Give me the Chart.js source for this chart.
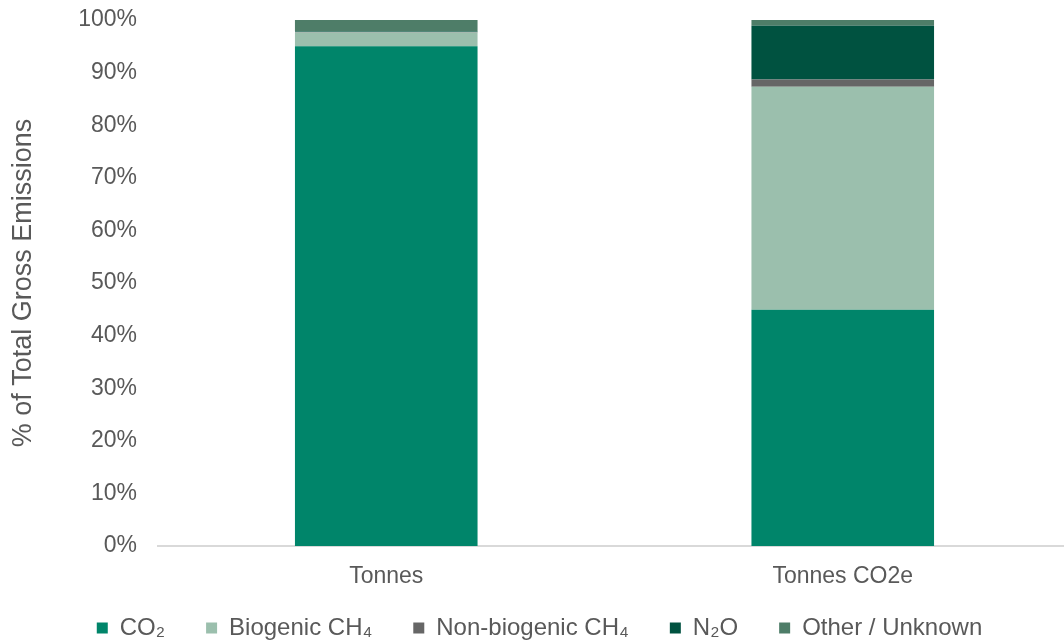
<!DOCTYPE html>
<html>
<head>
<meta charset="utf-8">
<script src="https://cdn.jsdelivr.net/npm/chart.js@4"></script>
<style>
html,body{margin:0;padding:0;background:#fff;overflow:hidden;}
#wrap{width:1064px;height:644px;position:relative;overflow:hidden;}
</style>
</head>
<body>
<div id="wrap"><canvas id="c" width="1071" height="644"></canvas></div>
<script>
const categories = ["Tonnes", "Tonnes CO2e"];
const seriesNames = ["CO\u2082", "Biogenic CH\u2084", "Non-biogenic CH\u2084", "N\u2082O", "Other / Unknown"];
const co2 = [95.0, 44.9];
const biogenicCH4 = [2.6, 42.4];
const nonBiogenicCH4 = [0.1, 1.4];
const n2o = [0.1, 10.2];
const otherUnknown = [2.2, 1.1];
const yTicks = [0, 10, 20, 30, 40, 50, 60, 70, 80, 90, 100];

const colors = ["#00856A", "#9BBFAD", "#666666", "#005240", "#4E7D68"];
const values = [co2, biogenicCH4, nonBiogenicCH4, n2o, otherUnknown];
const FONT = "'Liberation Sans', Arial, sans-serif";

// compact legend box; its drawing is moved to the reference position
const LegendCls = Chart.registry.getPlugin('legend')._element;
const origFit = LegendCls.prototype.fit;
LegendCls.prototype.fit = function () { origFit.call(this); this.height = 42; };
const origDraw = LegendCls.prototype.draw;
LegendCls.prototype.draw = function () {
  const t = this.top, l = this.left, r = this.right;
  this.top = t - 27;
  this.left = l + 4;
  this.right = r + 4;
  origDraw.call(this);
  this.top = t; this.left = l; this.right = r;
};

new Chart(document.getElementById('c'), {
  type: 'bar',
  data: {
    labels: categories,
    datasets: seriesNames.map((n, i) => ({
      label: n,
      data: values[i],
      backgroundColor: colors[i],
      borderWidth: 0,
      barPercentage: 0.4,
      categoryPercentage: 1.0
    }))
  },
  options: {
    responsive: false,
    animation: false,
    layout: { padding: { top: 20, right: 0, left: 0, bottom: 0 } },
    plugins: {
      tooltip: { enabled: false },
      legend: {
        position: 'bottom',
        labels: {
          color: '#595959',
          font: { family: FONT, size: 24 },
          boxWidth: 11,
          boxHeight: 11,
          padding: 41
        }
      }
    },
    scales: {
      x: {
        stacked: true,
        grid: { display: false },
        border: { display: true, color: '#D9D9D9', width: 2 },
        ticks: { color: '#595959', font: { family: FONT, size: 23 }, padding: 9 },
        afterFit: s => { s.height = 56; s.paddingLeft = 0; s.paddingRight = 0; }
      },
      y: {
        stacked: true,
        min: 0, max: 100,
        afterBuildTicks: s => { s.ticks = yTicks.map(v => ({ value: v })); },
        grid: { display: false, drawTicks: false },
        border: { display: false },
        ticks: {
          color: '#595959',
          font: { family: FONT, size: 23 },
          padding: 21,
          callback: v => v + '%'
        },
        title: {
          display: true,
          text: '% of Total Gross Emissions',
          color: '#595959',
          font: { family: FONT, size: 27 },
          padding: { top: 7, bottom: 0 }
        },
        afterFit: s => { s.width = 158; s.paddingTop = 0; s.paddingBottom = 0; }
      }
    }
  }
});
</script>
</body>
</html>
